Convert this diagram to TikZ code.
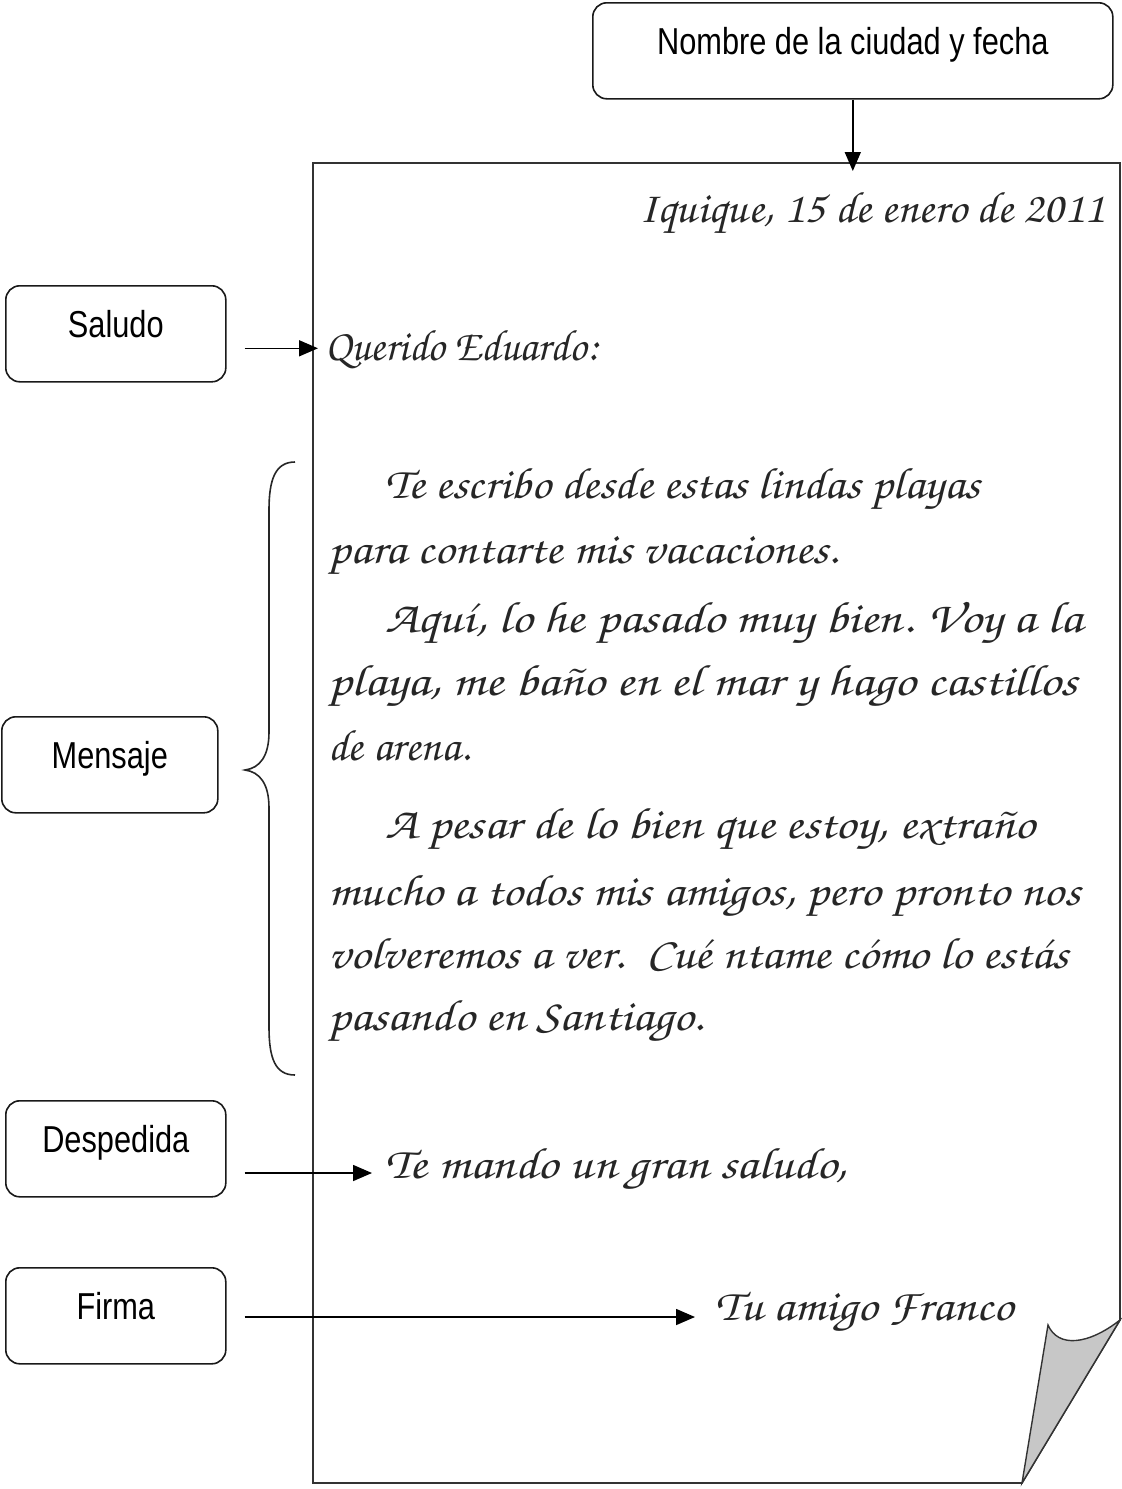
\documentclass[tikz,border=0pt]{standalone}
\usepackage[T1]{fontenc}
\usepackage{fontspec}
\usepackage{graphicx}
\usetikzlibrary{arrows.meta}
\newfontfamily\boxfont[FakeStretch=0.82]{Liberation Sans}
\newcommand\cursiva{\fontencoding{T1}\fontfamily{pzc}\fontseries{mb}\fontshape{it}\fontsize{44}{50}\selectfont}
\newcommand\linea[2]{\resizebox{#1pt}{\height}{#2}}
\begin{document}
\begin{tikzpicture}[x=1pt,y=-1pt,
  lbl/.style={draw=black!90, line width=1.6pt, rounded corners=14pt, inner sep=0pt,
    text height=52pt, text depth=44pt, minimum width=220pt, anchor=north west,
    font=\boxfont\fontsize{37.5}{40}\selectfont},
  hw/.style={anchor=base west, inner sep=0pt, font=\cursiva, text=black!85},
  arr/.style={line width=1.6pt, draw=black, -{Triangle[length=19pt,width=16pt]}},
  pagina/.style={draw=black!80, line width=1.6pt, fill=white},
  doblez/.style={draw=black!80, line width=1.4pt, fill=black!22}]
\useasboundingbox (0,0) rectangle (1122,1489);
% page
\draw[pagina] (313,163) -- (1120,163) -- (1120,1320) -- (1022,1483) -- (313,1483) -- cycle;
\filldraw[doblez] (1048,1325) .. controls (1058,1348) and (1088,1345) .. (1120,1320) -- (1022,1483) -- cycle;
% labels
\node[lbl, minimum width=520pt] (ciudad) at (592,2) {Nombre de la ciudad y fecha};
\node[lbl] (saludo) at (5,285) {Saludo};
\node[lbl, minimum width=216pt] (mensaje) at (1,716) {Mensaje};
\node[lbl] (despedida) at (5,1100) {Despedida};
\node[lbl] (firma) at (5,1267) {Firma};
% letter text
\node[hw, anchor=base east] (fecha) at (1105,222) {\linea{465}{Iquique, 15 de enero de 2011}};
\node[hw] (querido) at (325,360) {\linea{273}{Querido Eduardo:}};
\node[hw] (l1) at (385,498) {\linea{595}{Te escribo desde estas lindas playas}};
\node[hw] (l2) at (328,563) {\linea{510}{para contarte mis vacaciones.}};
\node[hw] (l3) at (385,632) {\linea{697}{Aquí, lo he pasado muy bien. Voy a la}};
\node[hw] (l4) at (328,695) {\linea{749}{playa, me baño en el mar y hago castillos}};
\node[hw] (l5) at (328,760) {\linea{142}{de arena.}};
\node[hw] (l6) at (385,838) {\linea{650}{A pesar de lo bien que estoy, extraño}};
\node[hw] (l7) at (328,905) {\linea{752}{mucho a todos mis amigos, pero pronto nos}};
\node[hw] (l8) at (328,968) {\linea{740}{volveremos a ver.\ \ Cué ntame cómo lo estás}};
\node[hw] (l9) at (328,1030) {\linea{375}{pasando en Santiago.}};
\node[hw] (tmando) at (385,1178) {\linea{462}{Te mando un gran saludo,}};
\node[hw] (tamigo) at (715,1320) {\linea{298}{Tu amigo Franco}};
% connectors
\coordinate (tope) at (851,171);
\draw[arr] (ciudad.south) -- (ciudad.south |- tope);
\draw[arr] ([xshift=18pt]saludo.east |- querido.west) -- ([xshift=-7pt]querido.west);
\draw[arr] ([xshift=18pt,yshift=5pt]despedida.east |- tmando.base west) -- ([xshift=-13pt,yshift=5pt]tmando.base west);
\draw[arr] ([xshift=18pt,yshift=3pt]firma.east |- tamigo.base west) -- ([xshift=-20pt,yshift=3pt]tamigo.base west);
% brace
\draw[line width=1.6pt, black!85] (295,462) .. controls (275,462) and (269,480) .. (269,510) -- (269,732)
  .. controls (269,756) and (260,768) .. (245,770) .. controls (260,772) and (269,784) .. (269,808)
  -- (269,1027) .. controls (269,1058) and (275,1075) .. (295,1075);
\end{tikzpicture}
\end{document}
